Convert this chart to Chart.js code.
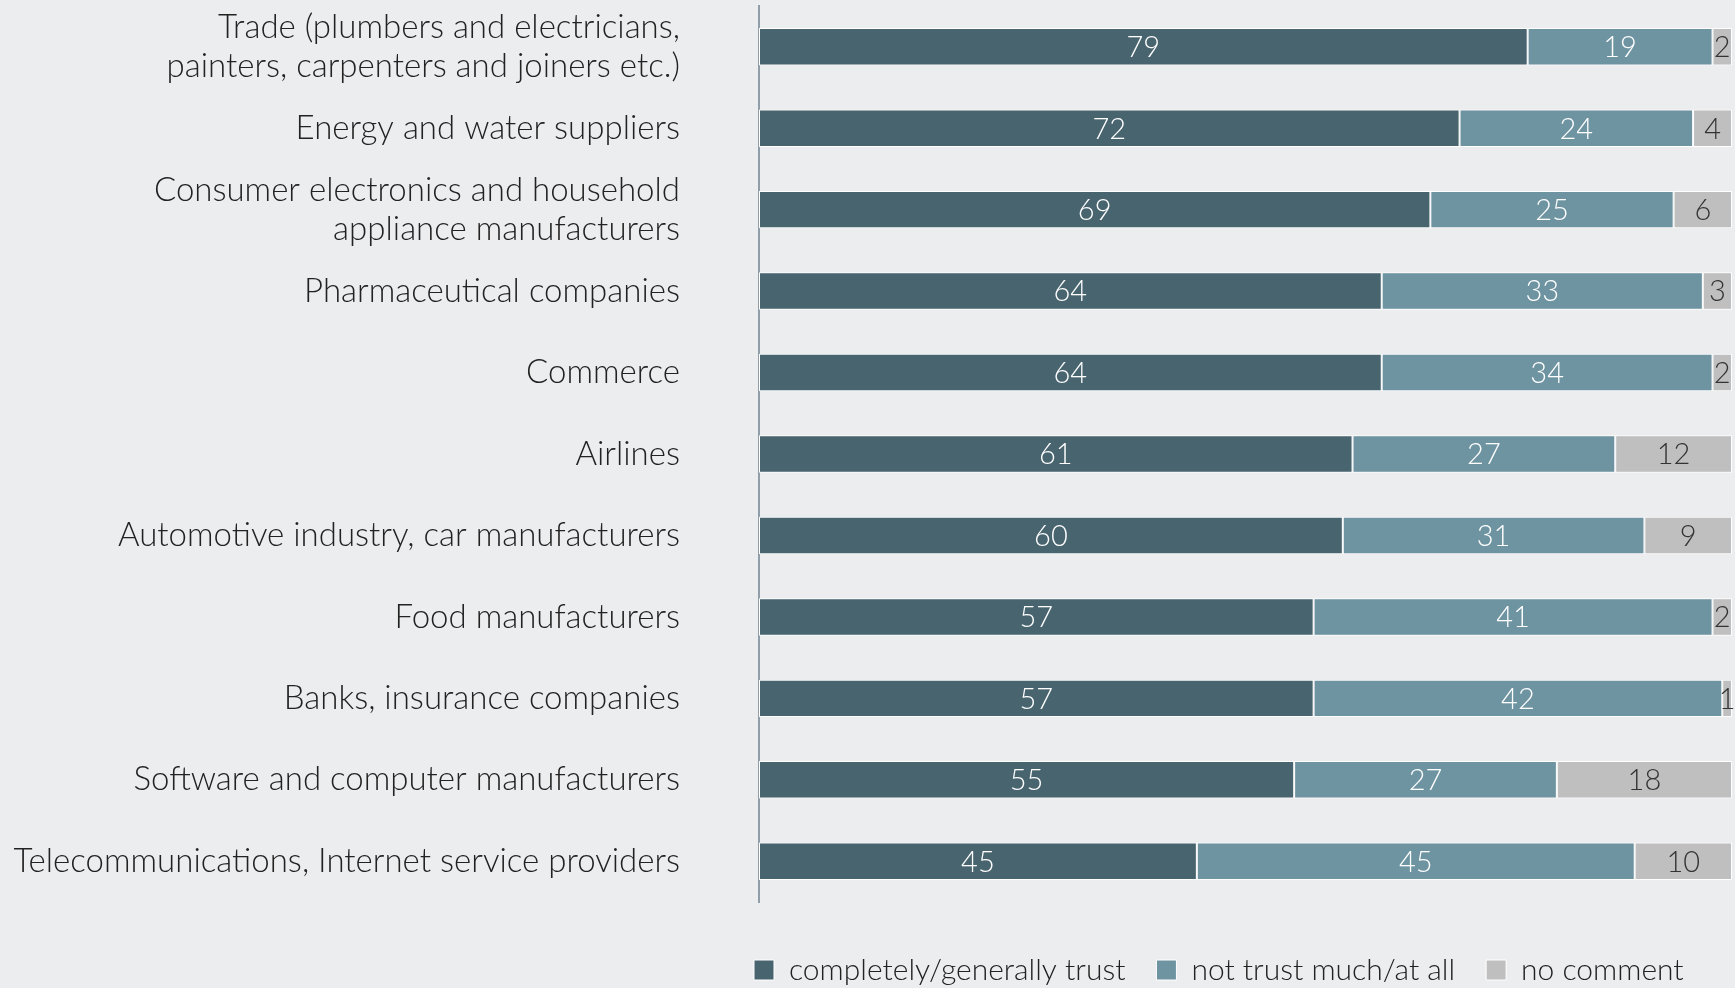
<!DOCTYPE html>
<html>
<head>
<meta charset="utf-8">
<script src="https://cdn.jsdelivr.net/npm/chart.js@4"></script>
<style>
  html, body { margin: 0; padding: 0; background: #ecedef; }
  #wrap { width: 1735px; height: 988px; }
</style>
</head>
<body>
<div id="wrap"><canvas id="trustChart"></canvas></div>
<script>
const categories = [
  ['Trade (plumbers and electricians,', 'painters, carpenters and joiners etc.)'],
  'Energy and water suppliers',
  ['Consumer electronics and household', 'appliance manufacturers'],
  'Pharmaceutical companies',
  'Commerce',
  'Airlines',
  'Automotive industry, car manufacturers',
  'Food manufacturers',
  'Banks, insurance companies',
  'Software and computer manufacturers',
  'Telecommunications, Internet service providers'
];
const trustValues   = [79, 72, 69, 64, 64, 61, 60, 57, 57, 55, 45];
const noTrustValues = [19, 24, 25, 33, 34, 27, 31, 41, 42, 27, 45];
const noCommentValues = [2, 4, 6, 3, 2, 12, 9, 2, 1, 18, 10];

const seriesNames = ['completely/generally trust', 'not trust much/at all', 'no comment'];
const seriesColors = ['#48646f', '#6e94a2', '#bfbfbf'];
const labelColors = ['#ffffff', '#ffffff', '#333333'];

const FONT = '"Lato", "Liberation Sans", sans-serif';
const AXIS_WIDTH = 759;   // left edge of the plot area
const LEGEND_PAD = 31;

// write each segment's value in the middle of the segment
const segmentLabels = {
  id: 'segmentLabels',
  afterDatasetsDraw(chart) {
    const ctx = chart.ctx;
    ctx.save();
    ctx.font = '300 29px ' + FONT;
    ctx.textAlign = 'center';
    ctx.textBaseline = 'middle';
    chart.data.datasets.forEach((ds, i) => {
      const meta = chart.getDatasetMeta(i);
      ctx.fillStyle = labelColors[i];
      meta.data.forEach((bar, j) => {
        const p = bar.getCenterPoint();
        ctx.fillText(String(ds.data[j]), p.x, p.y + 1);
      });
    });
    ctx.restore();
  }
};

// move the legend row under the plot area and a bit lower
const legendShift = {
  id: 'legendShift',
  beforeDraw(chart) {
    const lg = chart.legend;
    if (!lg || lg._shifted) return;
    const dx = (AXIS_WIDTH - 5 - LEGEND_PAD) - lg.left;
    lg.left += dx; lg.right += dx;
    lg.top += 22; lg.bottom += 22;
    lg._shifted = true;
  },
  afterLayout(chart) {
    if (chart.legend) chart.legend._shifted = false;
  }
};

const makeSet = (i, data) => ({
  label: seriesNames[i],
  data: data,
  backgroundColor: seriesColors[i],
  borderColor: '#ffffff',
  borderWidth: 1,
  borderSkipped: false,
  categoryPercentage: 1,
  barPercentage: 0.46
});

new Chart(document.getElementById('trustChart'), {
  type: 'bar',
  data: {
    labels: categories,
    datasets: [
      makeSet(0, trustValues),
      makeSet(1, noTrustValues),
      makeSet(2, noCommentValues)
    ]
  },
  options: {
    indexAxis: 'y',
    responsive: true,
    maintainAspectRatio: false,
    animation: false,
    layout: { padding: { top: 6, right: 3, bottom: 15, left: 0 } },
    scales: {
      x: {
        stacked: true,
        min: 0,
        max: 100,
        display: false
      },
      y: {
        stacked: true,
        grid: { display: false, drawTicks: false },
        border: { display: true, color: '#8f9ea8', width: 2 },
        ticks: {
          color: '#222222',
          padding: 79,
          font: { family: FONT, size: 33, weight: 300, lineHeight: 1.17 }
        },
        afterFit(scale) {
          scale.width = AXIS_WIDTH;
          scale.paddingTop = 0;
          scale.paddingBottom = 0;
        }
      }
    },
    plugins: {
      tooltip: { enabled: false },
      legend: {
        position: 'bottom',
        align: 'start',
        fullSize: true,
        labels: {
          color: '#222222',
          boxWidth: 20,
          boxHeight: 20,
          padding: LEGEND_PAD,
          font: { family: FONT, size: 30, weight: 300 }
        }
      }
    }
  },
  plugins: [segmentLabels, legendShift]
});
</script>
</body>
</html>
